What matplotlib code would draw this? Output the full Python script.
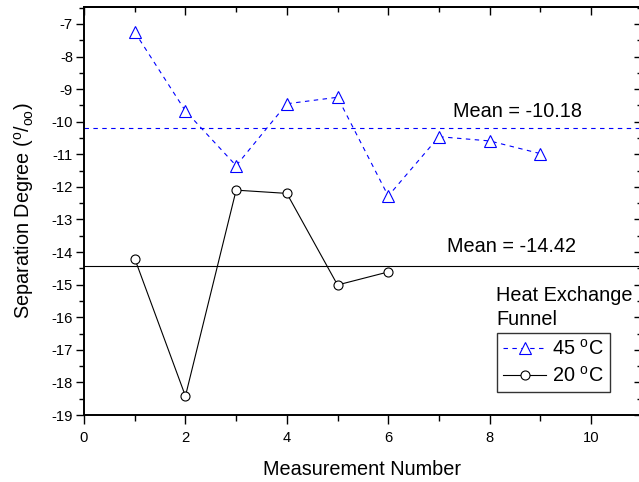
import matplotlib
matplotlib.use("Agg")
import matplotlib.pyplot as plt
from matplotlib.ticker import MultipleLocator

plt.rcParams['font.family'] = ['Liberation Sans', 'DejaVu Sans']
plt.rcParams['mathtext.fontset'] = 'custom'
plt.rcParams['mathtext.rm'] = 'Liberation Sans'
plt.rcParams['mathtext.it'] = 'Liberation Sans'
plt.rcParams['axes.unicode_minus'] = False

# separation degree per measurement
n_45 = [1, 2, 3, 4, 5, 6, 7, 8, 9]
sep_45 = [-7.25, -9.67, -11.35, -9.45, -9.25, -12.28, -10.46, -10.59, -10.98]
n_20 = [1, 2, 3, 4, 5, 6]
sep_20 = [-14.2, -18.42, -12.1, -12.2, -15.01, -14.61]
mean_45 = -10.18
mean_20 = -14.42

fig = plt.figure(figsize=(6.39, 4.82), dpi=100)
ax = fig.add_axes([0.1315, 0.139, 0.8728, 0.8465])

ax.axhline(mean_45, color='#0000FF', lw=0.8, ls=(0, (4, 4)))
ax.axhline(mean_20, color='black', lw=0.8)

ax.plot(n_45, sep_45, color='#0000FF', lw=0.8, ls=(0, (4, 4)), marker='^',
        ms=8.5, mfc='white', mec='#0000FF', mew=0.8, label=r'45 $^{\mathrm{o}}$C')
ax.plot(n_20, sep_20, color='black', lw=0.8, marker='o',
        ms=6.5, mfc='white', mec='black', mew=0.8, label=r'20 $^{\mathrm{o}}$C')

ax.text(7.28, -9.85, 'Mean = -10.18', fontsize=14.3, va='baseline')
ax.text(7.15, -14.01, 'Mean = -14.42', fontsize=14.3, va='baseline')
ax.text(8.13, -15.49, 'Heat Exchange', fontsize=14.3, va='baseline')
ax.text(8.13, -16.24, 'Funnel', fontsize=14.3, va='baseline')

ax.set_xlim(0, 11)
ax.set_ylim(-19, -6.48)

ax.xaxis.set_major_locator(MultipleLocator(2))
ax.xaxis.set_minor_locator(MultipleLocator(1))
ax.yaxis.set_major_locator(MultipleLocator(1))
ax.yaxis.set_minor_locator(MultipleLocator(0.5))
ax.tick_params(which='both', direction='out', labelsize=10.6, width=1.0)
ax.tick_params(axis='x', which='major', length=6.5, pad=5)
ax.tick_params(axis='x', which='minor', length=4)
ax.tick_params(axis='y', which='major', length=6, pad=2)
ax.tick_params(axis='y', which='minor', length=3.5)
for sp in ax.spines.values():
    sp.set_linewidth(1.4)

# inward ticks on the top and right sides
top = ax.secondary_xaxis('top')
top.xaxis.set_major_locator(MultipleLocator(2))
top.xaxis.set_minor_locator(MultipleLocator(1))
top.tick_params(which='both', direction='in', labeltop=False, width=1.0)
top.tick_params(which='major', length=6)
top.tick_params(which='minor', length=3.5)
top.spines['top'].set_linewidth(1.4)
right = ax.secondary_yaxis('right')
right.yaxis.set_major_locator(MultipleLocator(1))
right.yaxis.set_minor_locator(MultipleLocator(0.5))
right.tick_params(which='both', direction='in', labelright=False, width=1.0)
right.tick_params(which='major', length=6)
right.tick_params(which='minor', length=3.5)

leg = ax.legend(loc='upper left', bbox_to_anchor=(0.740, 0.201), borderaxespad=0,
                fontsize=14.3, frameon=True, fancybox=False, handlelength=2.2,
                handletextpad=0.3, borderpad=0.3, labelspacing=0.35)
leg.get_frame().set_edgecolor('black')
leg.get_frame().set_linewidth(1.0)

fig.text(362 / 639, 1 - 475 / 482, 'Measurement Number', fontsize=14.3,
         ha='center', va='baseline')
fig.text(24 / 639, 1 - 211 / 482, r'Separation Degree ($^{\mathrm{o}}$/$_{\mathrm{oo}}$)',
         fontsize=14.3, rotation=90, ha='center', va='center')

fig.savefig('out.png', dpi=100)
